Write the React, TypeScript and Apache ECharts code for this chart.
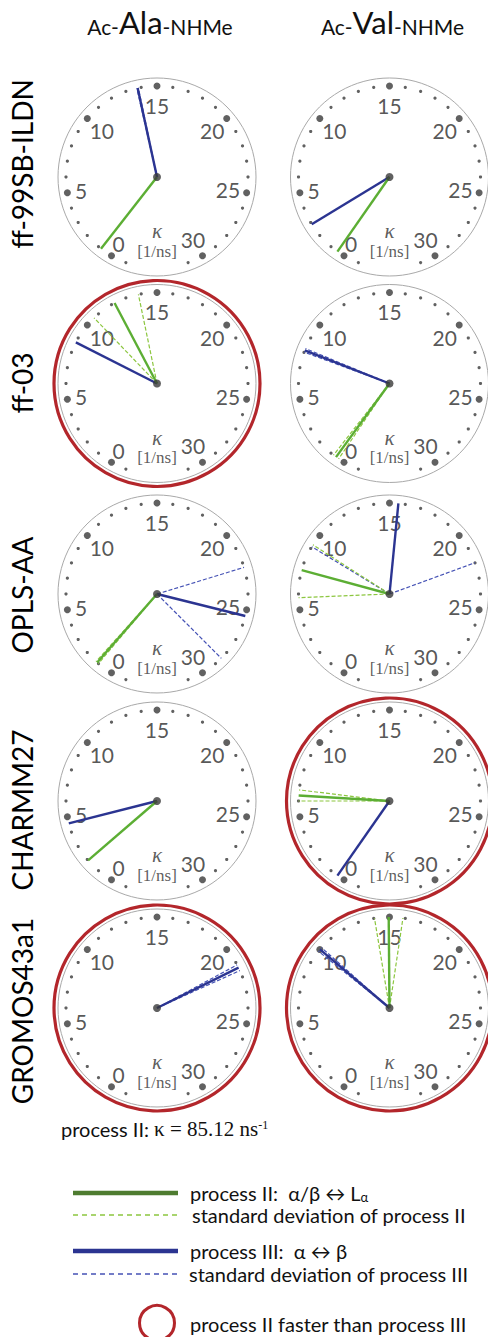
import React, { useEffect, useRef } from 'react';
import * as echarts from 'echarts';

// ---------------- data ----------------
const models = ['ff-99SB-ILDN', 'ff-03', 'OPLS-AA', 'CHARMM27', 'GROMOS43a1'];
const residues = ['Ala', 'Val'];

// dial scale (rate constant kappa in 1/ns)
const minorTicks = [35, 1, 2, 3, 4, 6, 7, 8, 9, 11, 12, 13, 14, 16, 17, 18, 19, 21, 22, 23, 24, 26, 27, 28, 29, 31];
const majorTicks = [0, 5, 10, 15, 20, 25, 30];

// process II (alpha/beta <-> L_alpha) and process III (alpha <-> beta), per force field
const procIIAla = [0.8, 12.22, 1.11, 1.92, 85.12];
const procIIAlaSd = [0, 1.6, 0.1, 0, 0];
const procIIIAla = [13.77, 8.69, 25.4, 4.58, 21.37];
const procIIIAlaSd = [0.05, 0, 3.1, 0, 0.2];

const procIIVal = [0.49, 0.6, 7.52, 6.35, 14.95];
const procIIValSd = [0, 0.2, 1.75, 0.35, 0.9];
const procIIIVal = [2.87, 8.14, 15.56, 0.49, 10.01];
const procIIIValSd = [0, 0.12, 6.43, 0, 0.15];

// ---------------- layout / style ----------------
const W = 488;
const H = 1337;
const colX = [157, 389.5];
const rowY = [177, 383.5, 594, 801, 1008];
const rowLabelY = [164, 383, 595, 810, 1011];
const DIAL_R = 99;
const HAND_R = 91;
const DOT_R = 91;
const MAX_DIAL = 31.5;

const GREEN = '#5cae34';
const GREEN_D = '#8cc63f';
const BLUE = '#2b3491';
const BLUE_D = '#4552b5';
const RED = '#b3262b';
const INK = '#3a3a3a';
const SANS = 'Lato, "Open Sans", sans-serif';
const SERIF = '"Liberation Serif", "DejaVu Serif", serif';

function handSeries(idx: number, v: number, color: string, width: number, dashed: boolean, z: number) {
  return {
    type: 'line',
    coordinateSystem: 'polar',
    polarIndex: idx,
    data: [[0, v], [HAND_R, v]],
    symbol: 'none',
    silent: true,
    z,
    lineStyle: { color, width, type: dashed ? [4, 2] : 'solid', cap: 'butt' },
  };
}

function buildOption() {
  const polar: any[] = [];
  const angleAxis: any[] = [];
  const radiusAxis: any[] = [];
  const series: any[] = [];
  const graphic: any[] = [];

  const II = [procIIAla, procIIVal];
  const IISd = [procIIAlaSd, procIIValSd];
  const III = [procIIIAla, procIIIVal];
  const IIISd = [procIIIAlaSd, procIIIValSd];

  for (let r = 0; r < models.length; r++) {
    for (let c = 0; c < residues.length; c++) {
      const idx = r * 2 + c;
      polar.push({ center: [colX[c], rowY[r]], radius: DIAL_R });
      angleAxis.push({
        polarIndex: idx,
        type: 'value',
        min: 0,
        max: 36,
        startAngle: 240,
        clockwise: true,
        axisLine: { show: true, lineStyle: { color: '#a9a9a9', width: 1 } },
        axisTick: { show: false },
        axisLabel: { show: false },
        splitLine: { show: false },
      });
      radiusAxis.push({
        polarIndex: idx,
        type: 'value',
        min: 0,
        max: DIAL_R,
        axisLine: { show: false },
        axisTick: { show: false },
        axisLabel: { show: false },
        splitLine: { show: false },
      });

      // minor dots
      series.push({
        type: 'scatter', coordinateSystem: 'polar', polarIndex: idx, silent: true, z: 2,
        symbol: 'circle', symbolSize: 3.2, itemStyle: { color: INK },
        data: minorTicks.map((v) => [DOT_R, v]),
      });
      // major dots
      series.push({
        type: 'scatter', coordinateSystem: 'polar', polarIndex: idx, silent: true, z: 2,
        symbol: 'circle', symbolSize: 7, itemStyle: { color: INK },
        data: majorTicks.map((v) => [DOT_R, v]),
      });
      // tick labels
      series.push({
        type: 'scatter', coordinateSystem: 'polar', polarIndex: idx, silent: true, z: 2,
        symbol: 'circle', symbolSize: 1, itemStyle: { color: 'rgba(0,0,0,0)' },
        label: { show: true, position: 'inside', formatter: '{b}', color: '#2b2b2b', fontSize: 21, fontFamily: SANS },
        data: majorTicks.map((v) => ({ name: String(v), value: [String(v).length > 1 ? 72 : 77, v] })),
      });
      // unit label
      series.push({
        type: 'scatter', coordinateSystem: 'polar', polarIndex: idx, silent: true, z: 2,
        symbol: 'circle', symbolSize: 1, itemStyle: { color: 'rgba(0,0,0,0)' },
        label: { show: true, position: 'inside', formatter: '{b}', color: '#333', fontFamily: SERIF },
        data: [
          { name: 'κ', value: [54, 33], label: { fontSize: 21, fontStyle: 'italic', lineHeight: 15 } },
          { name: '[1/ns]', value: [74, 33], label: { fontSize: 17, lineHeight: 16 } },
        ],
      });

      // hands
      const v2 = II[c][r], s2 = IISd[c][r];
      const v3 = III[c][r], s3 = IIISd[c][r];
      if (s3 > 0) {
        series.push(handSeries(idx, v3 - s3, BLUE_D, 1.2, true, 3));
        series.push(handSeries(idx, v3 + s3, BLUE_D, 1.2, true, 3));
      }
      if (v2 <= MAX_DIAL && s2 > 0) {
        series.push(handSeries(idx, v2 - s2, GREEN_D, 1.2, true, 3));
        series.push(handSeries(idx, v2 + s2, GREEN_D, 1.2, true, 3));
      }
      if (v3 <= MAX_DIAL) series.push(handSeries(idx, v3, BLUE, 2.4, false, 4));
      if (v2 <= MAX_DIAL) series.push(handSeries(idx, v2, GREEN, 2.4, false, 4));

      // hub
      series.push({
        type: 'scatter', coordinateSystem: 'polar', polarIndex: idx, silent: true, z: 5,
        symbol: 'circle', symbolSize: 8, itemStyle: { color: INK },
        data: [[0, 0]],
      });

      if (v2 > v3) {
        graphic.push({
          type: 'circle', silent: true, z: 10,
          shape: { cx: colX[c], cy: rowY[r], r: DIAL_R + 4 },
          style: { fill: 'none', stroke: RED, lineWidth: 3.2 },
        });
      }
    }
  }

  // column titles
  residues.forEach((res, c) => {
    graphic.push({
      type: 'text', silent: true,
      x: colX[c] + 3, y: 37,
      style: {
        text: `{s|Ac-}{b|${res}}{s|-NHMe}`,
        align: 'center', verticalAlign: 'bottom',
        rich: {
          s: { fontSize: 21, fontFamily: SANS, fill: '#111', verticalAlign: 'bottom', lineHeight: 30 },
          b: { fontSize: 31, fontFamily: SANS, fill: '#111', verticalAlign: 'bottom', lineHeight: 30 },
        },
      },
    });
  });

  // row labels
  models.forEach((m, r) => {
    graphic.push({
      type: 'text', silent: true,
      x: 22, y: rowLabelY[r], rotation: Math.PI / 2,
      style: { text: m, fontSize: 28, fontFamily: SANS, fill: '#000', align: 'center', verticalAlign: 'middle' },
    });
  });

  // off-scale note
  graphic.push({
    type: 'text', silent: true, x: 61, y: 1129,
    style: {
      text: `{a|process II: }{m|κ = ${procIIAla[4].toFixed(2)} ns}{p|-1}`,
      verticalAlign: 'middle',
      rich: {
        a: { fontSize: 20, fontFamily: SANS, fill: '#111' },
        m: { fontSize: 21, fontFamily: SERIF, fill: '#111' },
        p: { fontSize: 12, fontFamily: SERIF, fill: '#111', verticalAlign: 'top', padding: [0, 0, 9, 0] },
      },
    },
  });

  // legend
  const legendRows = [
    { y: 1193, color: '#4e7c30', width: 4.5, dash: false, text: '{n|process II:  α/β ↔ L}{s|α}', tx: 190 },
    { y: 1215, color: GREEN_D, width: 1.5, dash: true, text: '{n|standard deviation of process II}', tx: 192 },
    { y: 1251, color: BLUE, width: 4.5, dash: false, text: '{n|process III:  α ↔ β}', tx: 190 },
    { y: 1274, color: BLUE_D, width: 1.5, dash: true, text: '{n|standard deviation of process III}', tx: 189 },
  ];
  legendRows.forEach((lr) => {
    graphic.push({
      type: 'line', silent: true,
      shape: { x1: 73, y1: lr.y, x2: 178, y2: lr.y },
      style: { stroke: lr.color, lineWidth: lr.width, lineDash: lr.dash ? [5, 4] : null },
    });
    graphic.push({
      type: 'text', silent: true, x: lr.tx, y: lr.y,
      style: {
        text: lr.text, verticalAlign: 'middle',
        rich: {
          n: { fontSize: 20, fontFamily: SANS, fill: '#111' },
          s: { fontSize: 13, fontFamily: SANS, fill: '#111', verticalAlign: 'bottom', padding: [7, 0, 0, 0] },
        },
      },
    });
  });
  graphic.push({
    type: 'circle', silent: true,
    shape: { cx: 157, cy: 1323, r: 17.5 },
    style: { fill: 'none', stroke: RED, lineWidth: 3 },
  });
  graphic.push({
    type: 'text', silent: true, x: 190, y: 1324,
    style: { text: 'process II faster than process III', fontSize: 20, fontFamily: SANS, fill: '#111', verticalAlign: 'middle' },
  });

  return {
    animation: false,
    backgroundColor: '#fff',
    polar,
    angleAxis,
    radiusAxis,
    series,
    graphic,
  };
}

export default function App() {
  const ref = useRef<HTMLDivElement>(null);
  useEffect(() => {
    const chart = echarts.init(ref.current as HTMLDivElement, null, { renderer: 'svg' });
    chart.setOption(buildOption() as any);
    return () => chart.dispose();
  }, []);
  return (
    <div
      ref={ref}
      style={{ position: 'absolute', left: 0, top: 0, width: W, height: H, background: '#fff' }}
    />
  );
}
